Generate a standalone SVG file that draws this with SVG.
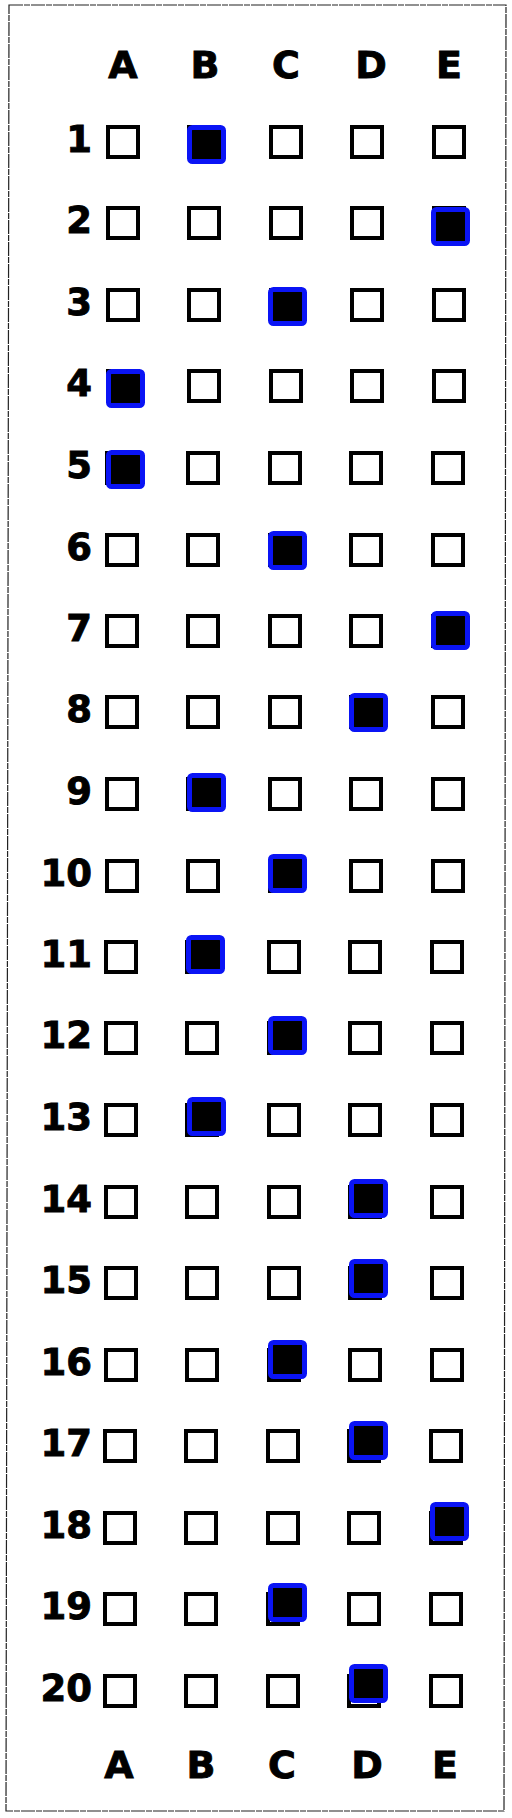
<svg xmlns="http://www.w3.org/2000/svg" xmlns:xlink="http://www.w3.org/1999/xlink" width="512" height="1818" viewBox="0 0 512 1818">
<style>
.box{fill:none;stroke:#000;stroke-width:4}
.mark{fill:#000;stroke:#0a14f5;stroke-width:5}
.num{font-family:"DejaVu Sans","Liberation Sans",sans-serif;font-weight:bold;font-size:37px;fill:#000;stroke:#000;stroke-width:0.9;text-anchor:end}
.hdr{font-family:"DejaVu Sans","Liberation Sans",sans-serif;font-weight:bold;font-size:38px;fill:#000;stroke:#000;stroke-width:0.9;text-anchor:middle}
</style>
<defs>
<rect id="b" x="2" y="2" width="30" height="30" class="box"/>
</defs>
<rect width="512" height="1818" fill="#fff"/>
<polygon points="9,5 506,5 504,1811 6,1811" fill="none" stroke="#222" stroke-width="1.2" stroke-dasharray="14 1 6 1"/>
<g id="header">
<text class="hdr" x="123" y="78">A</text><text class="hdr" x="205" y="78">B</text><text class="hdr" x="286" y="78">C</text><text class="hdr" x="371" y="78">D</text><text class="hdr" x="449" y="78">E</text>
</g>
<g id="q1"><text class="num" x="92" y="152">1</text><use href="#b" x="106" y="125"/><use href="#b" x="187" y="125"/><use href="#b" x="269" y="125"/><use href="#b" x="350" y="125"/><use href="#b" x="432" y="125"/><rect class="mark" x="189.5" y="127.5" width="34" height="34" rx="3"/></g>
<g id="q2"><text class="num" x="92" y="233">2</text><use href="#b" x="106" y="206"/><use href="#b" x="187" y="206"/><use href="#b" x="269" y="206"/><use href="#b" x="350" y="206"/><use href="#b" x="432" y="206"/><rect class="mark" x="433.5" y="209.5" width="34" height="34" rx="3"/></g>
<g id="q3"><text class="num" x="92" y="315">3</text><use href="#b" x="106" y="288"/><use href="#b" x="187" y="288"/><use href="#b" x="269" y="288"/><use href="#b" x="350" y="288"/><use href="#b" x="432" y="288"/><rect class="mark" x="270.5" y="289.5" width="34" height="34" rx="3"/></g>
<g id="q4"><text class="num" x="92" y="396">4</text><use href="#b" x="106" y="369"/><use href="#b" x="187" y="369"/><use href="#b" x="269" y="369"/><use href="#b" x="350" y="369"/><use href="#b" x="432" y="369"/><rect class="mark" x="108.5" y="371.5" width="34" height="34" rx="3"/></g>
<g id="q5"><text class="num" x="92" y="478">5</text><use href="#b" x="105" y="451"/><use href="#b" x="186" y="451"/><use href="#b" x="268" y="451"/><use href="#b" x="349" y="451"/><use href="#b" x="431" y="451"/><rect class="mark" x="108.5" y="452.5" width="34" height="34" rx="3"/></g>
<g id="q6"><text class="num" x="92" y="560">6</text><use href="#b" x="105" y="533"/><use href="#b" x="186" y="533"/><use href="#b" x="268" y="533"/><use href="#b" x="349" y="533"/><use href="#b" x="431" y="533"/><rect class="mark" x="270.5" y="533.5" width="34" height="34" rx="3"/></g>
<g id="q7"><text class="num" x="92" y="641">7</text><use href="#b" x="105" y="614"/><use href="#b" x="186" y="614"/><use href="#b" x="268" y="614"/><use href="#b" x="349" y="614"/><use href="#b" x="431" y="614"/><rect class="mark" x="433.5" y="613.5" width="34" height="34" rx="3"/></g>
<g id="q8"><text class="num" x="92" y="722">8</text><use href="#b" x="105" y="695"/><use href="#b" x="186" y="695"/><use href="#b" x="268" y="695"/><use href="#b" x="349" y="695"/><use href="#b" x="431" y="695"/><rect class="mark" x="351.5" y="695.5" width="34" height="34" rx="3"/></g>
<g id="q9"><text class="num" x="92" y="804">9</text><use href="#b" x="105" y="777"/><use href="#b" x="186" y="777"/><use href="#b" x="268" y="777"/><use href="#b" x="349" y="777"/><use href="#b" x="431" y="777"/><rect class="mark" x="189.5" y="775.5" width="34" height="34" rx="3"/></g>
<g id="q10"><text class="num" x="92" y="886">10</text><use href="#b" x="105" y="859"/><use href="#b" x="186" y="859"/><use href="#b" x="268" y="859"/><use href="#b" x="349" y="859"/><use href="#b" x="431" y="859"/><rect class="mark" x="270.5" y="856.5" width="34" height="34" rx="3"/></g>
<g id="q11"><text class="num" x="92" y="967">11</text><use href="#b" x="104" y="940"/><use href="#b" x="185" y="940"/><use href="#b" x="267" y="940"/><use href="#b" x="348" y="940"/><use href="#b" x="430" y="940"/><rect class="mark" x="188.5" y="937.5" width="34" height="34" rx="3"/></g>
<g id="q12"><text class="num" x="92" y="1048">12</text><use href="#b" x="104" y="1021"/><use href="#b" x="185" y="1021"/><use href="#b" x="267" y="1021"/><use href="#b" x="348" y="1021"/><use href="#b" x="430" y="1021"/><rect class="mark" x="270.5" y="1018.5" width="34" height="34" rx="3"/></g>
<g id="q13"><text class="num" x="92" y="1130">13</text><use href="#b" x="104" y="1103"/><use href="#b" x="185" y="1103"/><use href="#b" x="267" y="1103"/><use href="#b" x="348" y="1103"/><use href="#b" x="430" y="1103"/><rect class="mark" x="189.5" y="1099.5" width="34" height="34" rx="3"/></g>
<g id="q14"><text class="num" x="92" y="1212">14</text><use href="#b" x="104" y="1185"/><use href="#b" x="185" y="1185"/><use href="#b" x="267" y="1185"/><use href="#b" x="348" y="1185"/><use href="#b" x="430" y="1185"/><rect class="mark" x="351.5" y="1181.5" width="34" height="34" rx="3"/></g>
<g id="q15"><text class="num" x="92" y="1293">15</text><use href="#b" x="104" y="1266"/><use href="#b" x="185" y="1266"/><use href="#b" x="267" y="1266"/><use href="#b" x="348" y="1266"/><use href="#b" x="430" y="1266"/><rect class="mark" x="351.5" y="1261.5" width="34" height="34" rx="3"/></g>
<g id="q16"><text class="num" x="92" y="1375">16</text><use href="#b" x="104" y="1348"/><use href="#b" x="185" y="1348"/><use href="#b" x="267" y="1348"/><use href="#b" x="348" y="1348"/><use href="#b" x="430" y="1348"/><rect class="mark" x="270.5" y="1342.5" width="34" height="34" rx="3"/></g>
<g id="q17"><text class="num" x="92" y="1456">17</text><use href="#b" x="103" y="1429"/><use href="#b" x="184" y="1429"/><use href="#b" x="266" y="1429"/><use href="#b" x="347" y="1429"/><use href="#b" x="429" y="1429"/><rect class="mark" x="351.5" y="1423.5" width="34" height="34" rx="3"/></g>
<g id="q18"><text class="num" x="92" y="1538">18</text><use href="#b" x="103" y="1511"/><use href="#b" x="184" y="1511"/><use href="#b" x="266" y="1511"/><use href="#b" x="347" y="1511"/><use href="#b" x="429" y="1511"/><rect class="mark" x="432.5" y="1504.5" width="34" height="34" rx="3"/></g>
<g id="q19"><text class="num" x="92" y="1619">19</text><use href="#b" x="103" y="1592"/><use href="#b" x="184" y="1592"/><use href="#b" x="266" y="1592"/><use href="#b" x="347" y="1592"/><use href="#b" x="429" y="1592"/><rect class="mark" x="270.5" y="1585.5" width="34" height="34" rx="3"/></g>
<g id="q20"><text class="num" x="92" y="1701">20</text><use href="#b" x="103" y="1674"/><use href="#b" x="184" y="1674"/><use href="#b" x="266" y="1674"/><use href="#b" x="347" y="1674"/><use href="#b" x="429" y="1674"/><rect class="mark" x="351.5" y="1666.5" width="34" height="34" rx="3"/></g>
<g id="footer">
<text class="hdr" x="119" y="1778">A</text><text class="hdr" x="201" y="1778">B</text><text class="hdr" x="282" y="1778">C</text><text class="hdr" x="367" y="1778">D</text><text class="hdr" x="445" y="1778">E</text>
</g>
<g id="connectors"/>
</svg>
